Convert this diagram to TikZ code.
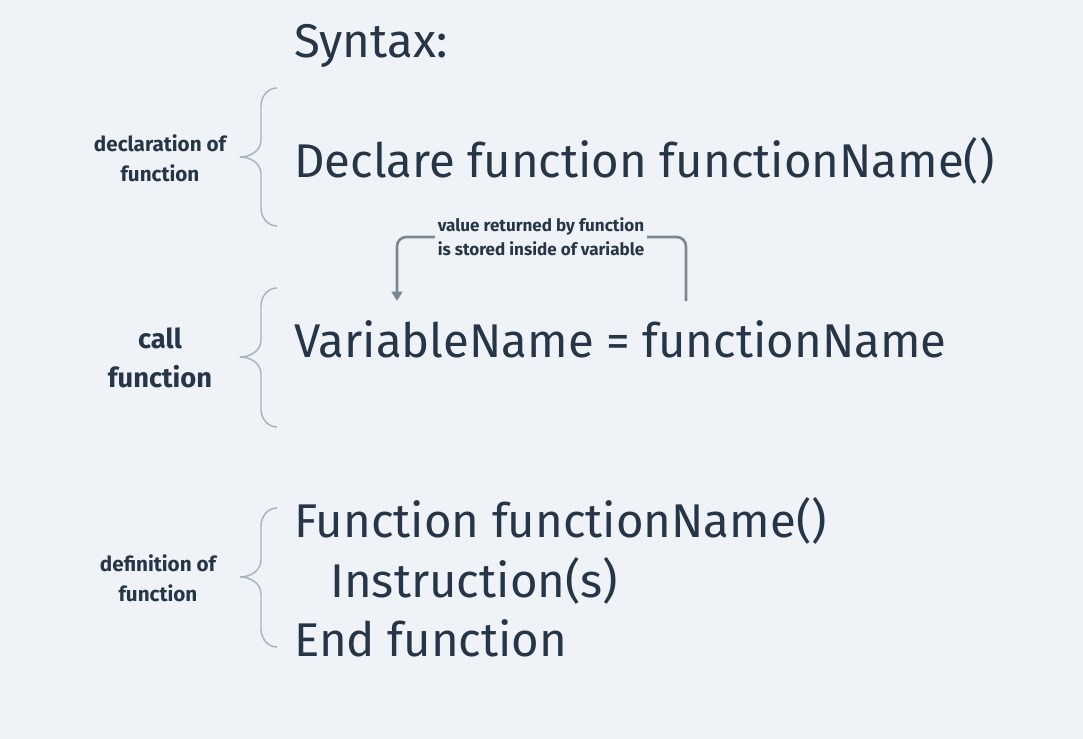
\documentclass[tikz,border=0pt]{standalone}
\usepackage{fontspec}
\setmainfont{Fira Sans}
\usetikzlibrary{arrows.meta}
\definecolor{bg}{HTML}{EFF3F7}
\definecolor{ink}{HTML}{263646}
\definecolor{bracec}{HTML}{A7B4C2}
\definecolor{arrc}{HTML}{7B8894}
\tikzset{
  code/.style={anchor=base west, inner sep=0pt, text=ink, font=\fontsize{35.5}{42}\selectfont},
  lab/.style={align=center, inner sep=0pt, text=ink, font=\bfseries\fontsize{15.5}{22.5}\selectfont},
  biglab/.style={align=center, inner sep=0pt, text=ink, font=\bfseries\fontsize{20.5}{29}\selectfont},
  smalllab/.style={align=center, inner sep=2pt, text=ink, font=\bfseries\fontsize{12.8}{18}\selectfont},
  brace/.style={draw=bracec, line width=1.1pt},
  arr/.style={draw=arrc, line width=2pt, rounded corners=7pt},
}
\begin{document}
\begin{tikzpicture}[x=0.75pt,y=-0.75pt]
\fill[bg] (0,0) rectangle (1083,739);
\useasboundingbox (0,0) rectangle (1083,739);
\node[code] (syn) at (294,57) {Syntax:};
\node[code] (decl) at (294,177) {Declare function functionName()};
\node[code] (call) at (294,357) {VariableName = functionName};
\node[code] (def1) at (294,537) {Function functionName()};
\node[code] (def2) at (330,597) {Instruction(s)};
\node[code] (def3) at (294,656) {End function};
\node[lab] (ldecl) at (160,158) {declaration of\\function};
\node[biglab] (lcall) at (160,358) {call\\function};
\node[lab] (ldef) at (158,578) {definition of\\function};
\node[smalllab] (note) at (541,237) {value returned by function\\is stored inside of variable};
\draw[brace] (277,88) to[out=180,in=90] (261,106) -- (261,140) to[out=-90,in=0] (240,157) to[out=0,in=90] (261,174) -- (261,208) to[out=-90,in=180] (277,226);
\draw[brace] (277,288) to[out=180,in=90] (261,306) -- (261,340) to[out=-90,in=0] (240,357) to[out=0,in=90] (261,374) -- (261,409) to[out=-90,in=180] (277,427);
\draw[brace] (277,508) to[out=180,in=90] (261,526) -- (261,560) to[out=-90,in=0] (240,577) to[out=0,in=90] (261,594) -- (261,629) to[out=-90,in=180] (277,647);
\coordinate (src) at (686,301);
\coordinate (dst) at (397,301);
\draw[arr] (src) -- (src |- note) -- (note.east |- note);
\draw[arr,-{Triangle[length=7pt,width=8pt]}] (note.west |- note) -- (dst |- note) -- (dst);
\end{tikzpicture}
\end{document}
